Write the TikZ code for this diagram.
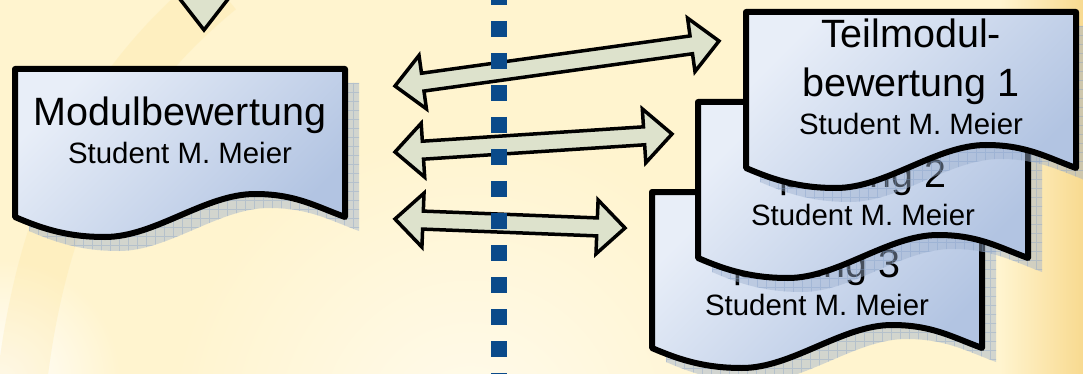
\documentclass[tikz,border=0pt]{standalone}
\usepackage{fontspec}
\setmainfont{Liberation Sans}
\usetikzlibrary{calc}
\definecolor{bgbase}{HTML}{FFF4CF}
\definecolor{bglight}{HTML}{FFFBEC}
\definecolor{bgorange}{HTML}{F8DA90}
\definecolor{bgband}{HTML}{FBE08E}
\definecolor{docA}{HTML}{E8EEF8}
\definecolor{docB}{HTML}{B2C4E2}
\definecolor{arrowfill}{HTML}{DDE2CC}
\definecolor{dotblue}{HTML}{0A4A8A}
\definecolor{shadowc}{HTML}{9DB0CE}
\definecolor{gridc}{HTML}{7F9CC8}
\newcommand\docpath[1]{(0,0) -- (330,0) -- (330,#1) .. controls (300,#1-11) and (280,#1-23) .. (240,#1-23) .. controls (190,#1-23) and (140,#1+20) .. (90,#1+20) .. controls (55,#1+20) and (30,#1+13) .. (0,#1) -- cycle}
\newcommand\dblarrow[2]{%
  \filldraw[blockarrow] (#1)
    -- ($(#1)!28pt!(#2)!27pt!90:(#2)$) -- ($(#1)!28pt!(#2)!9pt!90:(#2)$)
    -- ($(#2)!28pt!(#1)!9pt!-90:(#1)$) -- ($(#2)!28pt!(#1)!27pt!-90:(#1)$)
    -- (#2)
    -- ($(#2)!28pt!(#1)!27pt!90:(#1)$) -- ($(#2)!28pt!(#1)!9pt!90:(#1)$)
    -- ($(#1)!28pt!(#2)!9pt!-90:(#2)$) -- ($(#1)!28pt!(#2)!27pt!-90:(#2)$)
    -- cycle;}
\newcommand\docshadow[1]{%
  \begin{scope}[shift={(14,14)}]
    \fill[shadowc, opacity=0.45] \docpath{#1};
    \begin{scope}
      \clip \docpath{#1};
      \draw[gridc, opacity=0.35, line width=0.4pt, step=9pt] (-10,-10) grid (350,200);
    \end{scope}
  \end{scope}}
\newcommand\docbody[1]{%
  \shade[top color=docA, bottom color=docB, shading angle=45] \docpath{#1};
  \draw[docline] \docpath{#1};}
\begin{document}
\begin{tikzpicture}[x=1pt,y=-1pt,
  docline/.style={line width=6pt, line join=round},
  blockarrow/.style={fill=arrowfill, draw=black, line width=3.5pt, line join=miter},
  bigtxt/.style={font=\fontsize{39.5}{47}\selectfont, anchor=base, inner sep=0pt},
  smalltxt/.style={font=\fontsize{29.4}{35}\selectfont, anchor=base, inner sep=0pt},
  dotline/.style={line width=16pt, dotblue, dash pattern=on 16pt off 16pt}]
\useasboundingbox (0,0) rectangle (1083,374);
% background
\begin{scope}
  \clip (0,0) rectangle (1083,374);
  \fill[bgbase] (0,0) rectangle (1083,374);
  \shade[inner color=bglight, outer color=bgbase] (470,430) circle (300);
  \shade[inner color=white, outer color=bgbase] (0,380) circle (120);
  \draw[bgband, line width=50pt, opacity=0.22] (20,400) .. controls (40,200) and (110,80) .. (220,-10);
  \shade[left color=bgbase, right color=bgorange] (1000,0) rectangle (1083,374);
\end{scope}
% top arrow head
\coordinate (tipL) at (176,-6);
\coordinate (tipR) at (232,-6);
\coordinate (tipB) at (204,30);
\filldraw[blockarrow] (tipL) -- (tipR) -- (tipB) -- cycle;
% left document
\begin{scope}[shift={(15,69)}]
  \docshadow{148}
  \docbody{148}
  \node[bigtxt] (mb) at (165,57) {Modulbewertung};
  \node[smalltxt] (mbs) at (165,95) {Student M. Meier};
\end{scope}
% double arrows
\coordinate (a1l) at (395,86);  \coordinate (a1r) at (719,41);
\coordinate (a2l) at (395,152); \coordinate (a2r) at (672,134);
\coordinate (a3l) at (395,219); \coordinate (a3r) at (625,228);
\dblarrow{a1l}{a1r}
\dblarrow{a2l}{a2r}
\dblarrow{a3l}{a3r}
% dotted separator
\coordinate (dtop) at (499,-11);
\coordinate (dbot) at (499,400);
\draw[dotline] (dtop) -- (dbot);
% document 3
\begin{scope}[shift={(652,192)}]
  \docshadow{156}
  \docbody{156}
  \node[bigtxt] (t3a) at (165,36) {Teilmodul-};
  \node[bigtxt] (t3b) at (165,85) {prüfung 3};
  \node[smalltxt] (t3c) at (165,123) {Student M. Meier};
\end{scope}
% document 2
\begin{scope}[shift={(698,102)}]
  \docshadow{156}
  \docbody{156}
  \node[bigtxt] (t2a) at (165,36) {Teilmodul-};
  \node[bigtxt] (t2b) at (165,85) {prüfung 2};
  \node[smalltxt] (t2c) at (165,123) {Student M. Meier};
\end{scope}
% document 1
\begin{scope}[shift={(746,12)}]
  \docshadow{156}
  \docbody{156}
  \node[bigtxt] (t1a) at (165,36) {Teilmodul-};
  \node[bigtxt] (t1b) at (165,85) {bewertung 1};
  \node[smalltxt] (t1c) at (165,123) {Student M. Meier};
\end{scope}
\end{tikzpicture}
\end{document}
